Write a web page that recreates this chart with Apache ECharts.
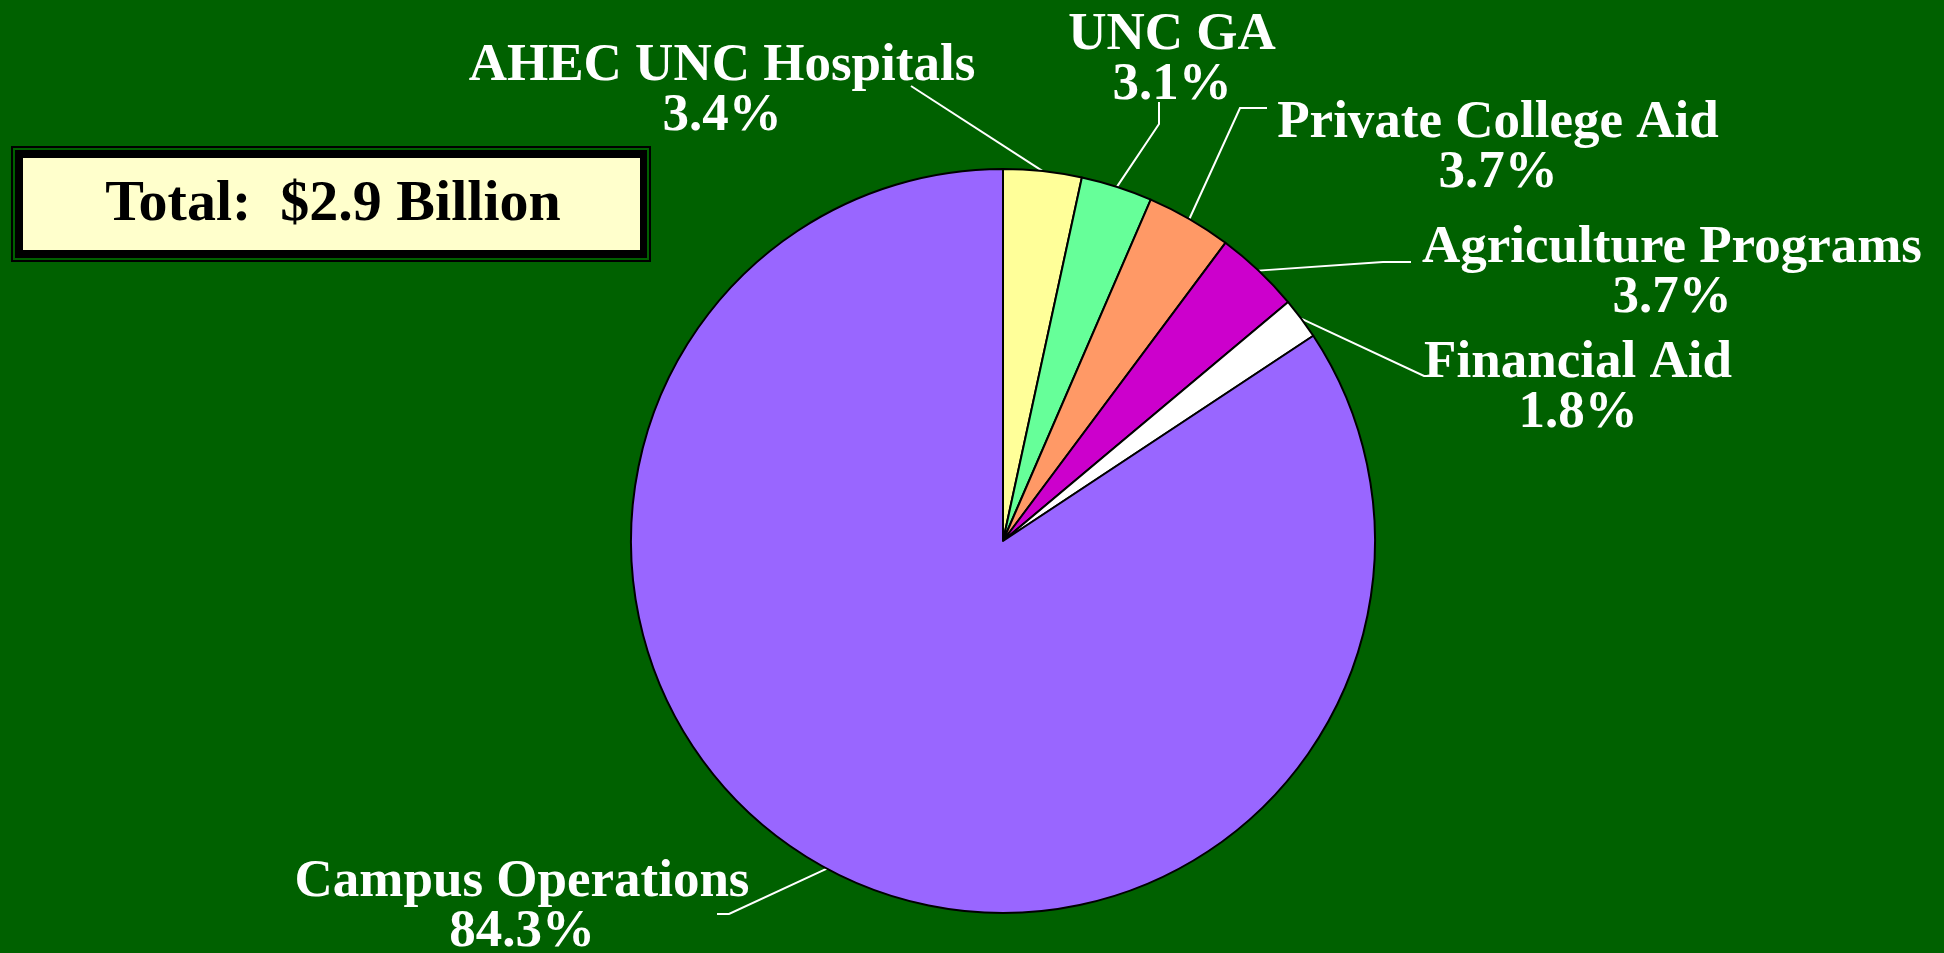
<!DOCTYPE html>
<html>
<head>
<meta charset="utf-8">
<title>Total: $2.9 Billion</title>
<script src="https://cdn.jsdelivr.net/npm/echarts@6/dist/echarts.min.js"></script>
<style>
  html, body { margin: 0; padding: 0; background: #006100; }
  #chart { width: 1944px; height: 953px; }
</style>
</head>
<body>
<div id="chart"></div>
<script>
// 数据 (clockwise from 12 o'clock)
var categories = ['AHEC UNC Hospitals', 'UNC GA', 'Private College Aid', 'Agriculture Programs', 'Financial Aid', 'Campus Operations'];
var shares = [3.4, 3.1, 3.7, 3.7, 1.8, 84.3];
var totalText = 'Total:  $2.9 Billion';

// 颜色
var sliceColors = ['#FFFF99', '#66FF99', '#FF9966', '#CC00CC', '#FFFFFF', '#9966FF'];

// label placement (centre of the two-line block) and leader line bend / end
var labelPos = [[722, 91], [1172, 60], [1498, 148], [1672, 273], [1578, 388], [522, 907]];
var lineBend = [[911, 86], [1159, 124], [1240, 108], [1383, 262], [1424, 376], [729, 914]];
var lineEnd = [[911, 86], [1159, 102], [1267, 108], [1411, 262], [1438, 376], [717, 914]];

var serif = '"Liberation Serif", "Times New Roman", serif';

var myChart = echarts.init(document.getElementById('chart'));

var pieData = categories.map(function (name, i) {
  return { name: name, value: shares[i], itemStyle: { color: sliceColors[i] } };
});

var option = {
  backgroundColor: '#006100',
  animation: false,
  graphic: [
    // outer thin frame
    { type: 'rect', shape: { x: 12, y: 147, width: 638, height: 114 },
      style: { fill: 'none', stroke: '#000', lineWidth: 2 } },
    // thick black frame
    { type: 'rect', shape: { x: 15, y: 150, width: 632, height: 108 },
      style: { fill: '#000' } },
    // yellow box
    { type: 'rect', shape: { x: 23, y: 158, width: 617, height: 92 },
      style: { fill: '#FFFFCC' } },
    { type: 'text', x: 333, y: 205,
      style: { text: totalText, fill: '#000', font: 'bold 58px ' + serif, align: 'center', verticalAlign: 'middle' } }
  ],
  series: [
    {
      type: 'pie',
      center: [1003, 541],
      radius: 372,
      startAngle: 90,
      clockwise: true,
      avoidLabelOverlap: false,
      itemStyle: { borderColor: '#000', borderWidth: 2 },
      label: {
        show: true,
        position: 'outside',
        alignTo: 'none',
        color: '#fff',
        fontFamily: serif,
        fontWeight: 'bold',
        fontSize: 53,
        lineHeight: 50,
        formatter: function (p) {
          return p.name + '\n' + p.value.toFixed(1) + '%';
        }
      },
      labelLine: {
        show: true,
        length: 20,
        length2: 10,
        lineStyle: { color: '#fff', width: 2 }
      },
      labelLayout: function (params) {
        var i = params.dataIndex;
        var pts = params.labelLinePoints;
        var res = {
          x: labelPos[i][0],
          y: labelPos[i][1],
          align: 'center',
          verticalAlign: 'middle'
        };
        if (pts) {
          res.labelLinePoints = [pts[0], lineBend[i], lineEnd[i]];
        }
        return res;
      },
      data: pieData
    }
  ]
};

myChart.setOption(option);
window.addEventListener('resize', function () {
  myChart.resize();
});
</script>
</body>
</html>
